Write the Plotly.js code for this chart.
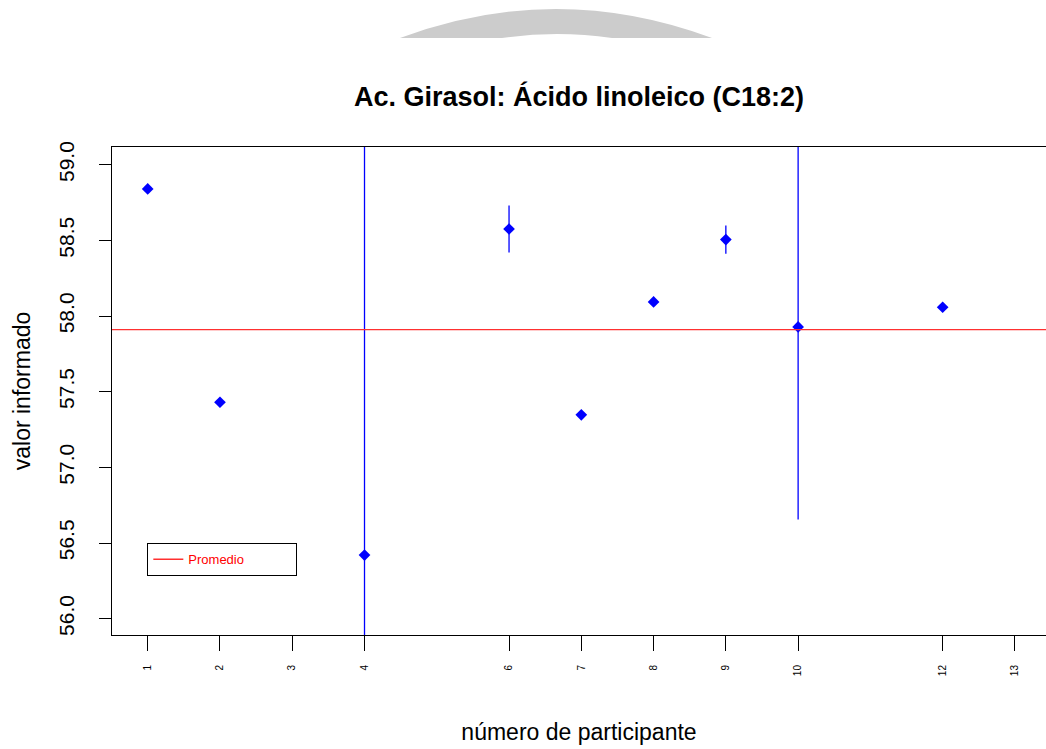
<!DOCTYPE html>
<html>
<head>
<meta charset="utf-8">
<script src="https://cdn.plot.ly/plotly-3.0.1.min.js"></script>
<style>
html,body{margin:0;padding:0;background:#fff;overflow:hidden;}
#chart{width:1046px;height:749px;}
</style>
</head>
<body>
<div id="chart"></div>
<script>
// ---- data ----
const participants = [1, 2, 4, 6, 7, 8, 9, 10, 12];
const reportedValues = [58.84, 57.43, 56.42, 58.575, 57.347, 58.093, 58.505, 57.928, 58.058];
const uncertainties = [0, 0, 3.0, 0.155, 0, 0, 0.093, 1.273, 0];
const promedio = 57.91;
const xTickValues = [1, 2, 3, 4, 6, 7, 8, 9, 10, 12, 13];
const xTickLabels = ['1', '2', '3', '4', '6', '7', '8', '9', '10', '12', '13'];
const yTickValues = [56.0, 56.5, 57.0, 57.5, 58.0, 58.5, 59.0];
const yTickLabels = ['56.0', '56.5', '57.0', '57.5', '58.0', '58.5', '59.0'];

const FONT = 'Liberation Sans, Arial, Helvetica, sans-serif';
const W = 1046, H = 749;
const M = {l: 112, r: 0, t: 147, b: 114};
// helpers for decorative (non-data) element in paper coordinates
const px2x = p => (p - M.l) / (W - M.l - M.r);
const py2y = p => (H - M.b - p) / (H - M.t - M.b);

const arcPath =
  'M ' + px2x(400) + ' ' + py2y(38) +
  ' Q ' + px2x(556) + ' ' + py2y(-20) + ' ' + px2x(712) + ' ' + py2y(38) +
  ' L ' + px2x(612) + ' ' + py2y(38) +
  ' Q ' + px2x(557) + ' ' + py2y(30) + ' ' + px2x(502) + ' ' + py2y(38) + ' Z';

const traces = [{
  type: 'scatter',
  mode: 'markers',
  x: participants,
  y: reportedValues,
  showlegend: false,
  marker: {symbol: 'diamond', size: 9, color: '#0000ff'},
  error_y: {type: 'data', array: uncertainties, visible: true, color: '#0000ff', thickness: 1.3, width: 0},
  cliponaxis: true
}];

const layout = {
  width: W, height: H,
  margin: M,
  paper_bgcolor: '#ffffff',
  plot_bgcolor: '#ffffff',
  font: {family: FONT, color: '#000000'},
  title: {
    text: '<b>Ac. Girasol: Ácido linoleico (C18:2)</b>',
    font: {family: FONT, size: 27, color: '#000000'},
    x: 0.5, xref: 'paper', xanchor: 'center',
    y: 1 - 97 / H, yref: 'container', yanchor: 'middle'
  },
  xaxis: {
    range: [0.506, 13.43],
    tickmode: 'array', tickvals: xTickValues, ticktext: xTickLabels,
    tickangle: -90,
    tickfont: {family: FONT, size: 10, color: '#000000'},
    ticks: 'outside', ticklen: 15, tickwidth: 1, tickcolor: '#000000',
    ticklabelstandoff: 10,
    showline: true, linecolor: '#000000', linewidth: 1, mirror: true,
    showgrid: false, zeroline: false,
    automargin: false,
    title: {text: 'número de participante', font: {family: FONT, size: 23, color: '#000000'}, standoff: 48}
  },
  yaxis: {
    range: [55.892, 59.117],
    tickmode: 'array', tickvals: yTickValues, ticktext: yTickLabels,
    tickangle: -90,
    tickfont: {family: FONT, size: 21, color: '#000000'},
    ticks: 'outside', ticklen: 12, tickwidth: 1, tickcolor: '#000000',
    ticklabelstandoff: 17,
    showline: true, linecolor: '#000000', linewidth: 1, mirror: false,
    showgrid: false, zeroline: false,
    automargin: false,
    title: {text: 'valor informado', font: {family: FONT, size: 23, color: '#000000'}, standoff: 17}
  },
  showlegend: true,
  legend: {
    x: 0.0375, y: 0.1885, xanchor: 'left', yanchor: 'top',
    xref: 'paper', yref: 'paper',
    orientation: 'h',
    bgcolor: '#ffffff', bordercolor: '#000000', borderwidth: 1.3,
    font: {family: FONT, size: 13, color: '#ff0000'},
    entrywidth: 102, entrywidthmode: 'pixels'
  },
  shapes: [
    {
      type: 'line', xref: 'paper', yref: 'y',
      x0: 0, x1: 1, y0: promedio, y1: promedio,
      line: {color: '#ff3030', width: 1.4},
      showlegend: true, name: 'Promedio', layer: 'above'
    },
    {
      type: 'path', xref: 'paper', yref: 'paper',
      path: arcPath, fillcolor: '#cccccc', line: {width: 0}, layer: 'below'
    }
  ]
};

Plotly.newPlot('chart', traces, layout, {displayModeBar: false, staticPlot: true});
</script>
</body>
</html>
